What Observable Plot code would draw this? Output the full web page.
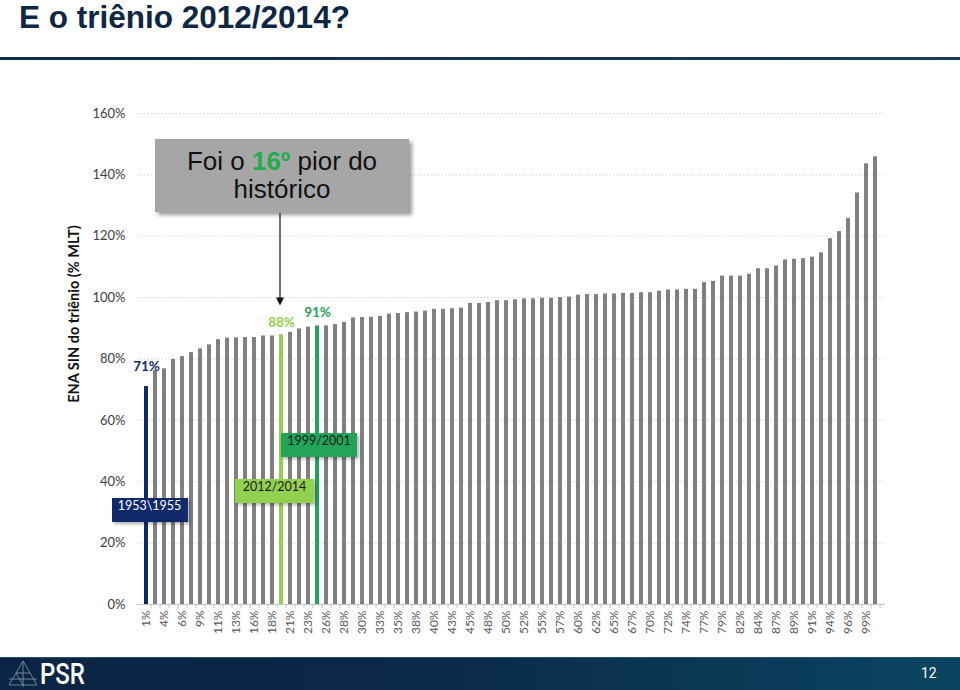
<!DOCTYPE html>
<html>
<head>
<meta charset="utf-8">
<script src="https://cdn.jsdelivr.net/npm/d3@7"></script>
<script src="https://cdn.jsdelivr.net/npm/@observablehq/plot@0.6"></script>
<style>
html, body { margin: 0; padding: 0; background: #fff; }
#page { position: relative; width: 960px; height: 690px; overflow: hidden; background: #fff; font-family: "Liberation Sans", Arial, sans-serif; }
#title { position: absolute; left: 19px; top: 0; font: bold 31.5px/34px "Liberation Sans", Arial, sans-serif; color: #0d2744; white-space: nowrap; }
#title-rule { position: absolute; left: 0; top: 57px; width: 960px; height: 3px; background: linear-gradient(90deg, #0f2a48, #1b3b5a); }
#chart { position: absolute; left: 0; top: 0; }
#chart svg g[aria-label^="x-axis"] text { font-size: 12px; fill: #595959; }
#chart svg g[aria-label^="y-axis"] text { font-size: 13px; fill: #404040; }
#ylabel { position: absolute; left: 73px; top: 314px; transform: translate(-50%, -50%) rotate(-90deg); font: bold 14.5px Lato, sans-serif; color: #111; white-space: nowrap; }
.tag { position: absolute; height: 24px; line-height: 24px; text-align: center; font: 12.5px Lato, sans-serif; box-shadow: 2px 2px 3px rgba(0,0,0,0.3); white-space: nowrap; }
#callout { position: absolute; left: 155px; top: 139px; width: 254px; height: 73px; background: #a6a6a6; box-shadow: 3px 3px 4px rgba(0,0,0,0.4); text-align: center; font: 26px/28px "Liberation Sans", Arial, sans-serif; color: #111; padding-top: 8px; box-sizing: border-box; white-space: nowrap; }
#callout b { color: #1fae4b; }
#footer { position: absolute; left: 0; top: 657px; width: 960px; height: 33px; background: linear-gradient(90deg, #0b2443 0%, #0b2949 45%, #0a4560 100%); border-top: 1px solid #2a5070; box-sizing: border-box; }
#psr { position: absolute; left: 40px; top: 658px; font: 500 30px/32px Roboto, sans-serif; color: #fff; transform: scaleX(0.8); transform-origin: left center; }
#pagenum { position: absolute; left: 921px; top: 664px; font: 14px/18px Roboto, sans-serif; color: #fff; }
</style>
</head>
<body>
<div id="page">
  <div id="title">E o triênio 2012/2014?</div>
  <div id="title-rule"></div>
  <div id="chart"></div>
  <div id="ylabel">ENA SIN do triênio (% MLT)</div>
  <div id="footer"></div>
  <svg id="logo" width="34" height="30" style="position:absolute;left:6px;top:659px" viewBox="0 0 34 30">
    <g fill="none" stroke="#9fb3c8" stroke-width="0.8" opacity="0.85">
      <polyline points="17,2 24,14 10,14 17,2"/>
      <polyline points="10,14 3,26 17,26 10,14"/>
      <polyline points="24,14 31,26 17,26"/>
      <line x1="17" y1="2" x2="17" y2="28"/>
      <line x1="3" y1="20" x2="31" y2="20"/>
    </g>
  </svg>
  <div id="psr">PSR</div>
  <div id="pagenum">12</div>
</div>
<script>
// ---- data ----
const enaValues = [
  71.0, 76.2, 76.8, 79.9, 80.8, 82.1, 83.3, 84.6, 86.3, 86.8,
  86.9, 87.0, 87.0, 87.5, 87.5, 87.8, 88.7, 89.8, 90.4, 90.7,
  90.8, 91.2, 91.9, 93.4, 93.5, 93.6, 93.9, 94.6, 94.8, 95.1,
  95.3, 95.6, 96.2, 96.2, 96.4, 96.6, 98.1, 98.1, 98.4, 99.0,
  99.0, 99.3, 99.6, 99.6, 99.8, 99.8, 100.0, 100.2, 100.8, 101.0,
  101.0, 101.2, 101.2, 101.4, 101.4, 101.6, 101.6, 102.1, 102.5, 102.5,
  102.7, 102.7, 104.9, 105.3, 107.0, 107.0, 107.0, 107.6, 109.4, 109.4,
  110.3, 112.3, 112.5, 112.7, 113.2, 114.6, 119.2, 121.5, 125.8, 134.1,
  143.6, 145.9
];
const xTickLabels = ["1%","4%","6%","9%","11%","13%","16%","18%","21%","23%",
  "26%","28%","30%","33%","35%","38%","40%","43%","45%","48%",
  "50%","52%","55%","57%","60%","62%","65%","67%","70%","72%",
  "74%","77%","79%","82%","84%","87%","89%","91%","94%","96%","99%"];
const yTicks = [0, 20, 40, 60, 80, 100, 120, 140, 160];
const highlightRanks = [1, 16, 20];
const highlightPeriods = ["1953\\1955", "2012/2014", "1999/2001"];

// ---- styles (not data) ----
const highlightFill = ["#10296b", "#92d050", "#22a55a"];
const highlightText = ["#10296b", "#92d050", "#22a55a"];
const valueLabelDy = [-16, -8, -9];
const tagTextColor = ["#ffffff", "#1a1a1a", "#1a1a1a"];
const tagBox = [ // pixel offsets of the period tags from their bar centre / y value
  {dx: 3.5, w: 76, yv: 30.6},
  {dx: -6.5, w: 79, yv: 36.8},
  {dx: 2, w: 76, yv: 51.8}
];

const ranks = enaValues.map((_, i) => i + 1);
const rows = ranks.map((r, i) => ({rank: r, value: enaValues[i]}));
const labelByRank = new Map(xTickLabels.map((t, i) => [2 * i + 1, t]));
const hlRows = highlightRanks.map((r, k) => ({rank: r, value: enaValues[r - 1], k}));

const W = 960, H = 657, mL = 137, mR = 75;
const step = (W - mL - mR) / ranks.length;

const marks = [
  Plot.ruleY(yTicks.filter(d => d > 0), {stroke: "#d4d4d4", strokeDasharray: "1.5,2"}),
  Plot.barY(rows, {x: "rank", y: "value", fill: "#808080"})
];
hlRows.forEach((d, k) => {
  marks.push(Plot.barY([d], {x: "rank", y: "value", fill: highlightFill[k]}));
});
marks.push(Plot.ruleY([0], {stroke: "#c4c4c4"}));
marks.push(Plot.ruleX(ranks, {x: d => d, y1: 0, y2: -1.4, dx: step / 2, stroke: "#c4c4c4"}));
hlRows.forEach((d, k) => {
  marks.push(Plot.text([d], {
    x: "rank", y: "value", text: v => Math.round(v.value) + "%",
    dy: valueLabelDy[k], lineAnchor: "bottom", fill: highlightText[k],
    fontWeight: "bold", fontSize: 13.5, fontFamily: "Lato, sans-serif"
  }));
});

const plot = Plot.plot({
  width: W, height: H,
  marginTop: 113, marginBottom: 53, marginLeft: mL, marginRight: mR,
  style: {fontFamily: "Lato, sans-serif", fontSize: "12px", color: "#404040", background: "transparent", overflow: "visible"},
  x: {type: "band", domain: ranks, paddingInner: 0.52, paddingOuter: 0.26,
      tickFormat: r => labelByRank.get(r) ?? "", tickRotate: -90, tickSize: 0, tickPadding: 6, label: null},
  y: {domain: [0, 160], ticks: yTicks, tickFormat: d => d + "%", tickSize: 0, tickPadding: 12, label: null},
  marks
});
document.getElementById("chart").appendChild(plot);

// ---- annotations placed through the plot's scales ----
const xs = plot.scale("x"), ys = plot.scale("y");
const bw = xs.bandwidth ?? step * 0.48;
const cx = r => xs.apply(r) + bw / 2;
const page = document.getElementById("page");

hlRows.forEach((d, k) => {
  const t = document.createElement("div");
  t.className = "tag";
  const b = tagBox[k];
  t.style.width = b.w + "px";
  t.style.left = (cx(d.rank) + b.dx - b.w / 2) + "px";
  t.style.top = (ys.apply(b.yv) - 12) + "px";
  t.style.background = highlightFill[k];
  t.style.color = tagTextColor[k];
  t.textContent = highlightPeriods[k];
  page.appendChild(t);
});

// callout box
const callout = document.createElement("div");
callout.id = "callout";
callout.innerHTML = "Foi o <b>" + highlightRanks[1] + "º</b> pior do<br>histórico";
page.appendChild(callout);

// arrow from callout to the 2012/2014 bar
const ax = cx(highlightRanks[1]) - 1;
const yTop = 213, yTip = ys.apply(enaValues[highlightRanks[1] - 1]) - 29;
const svgNS = "http://www.w3.org/2000/svg";
const arrow = document.createElementNS(svgNS, "svg");
arrow.setAttribute("width", 960); arrow.setAttribute("height", 690);
arrow.style.position = "absolute"; arrow.style.left = "0"; arrow.style.top = "0";
arrow.style.pointerEvents = "none";
arrow.innerHTML = `<line x1="${ax}" y1="${yTop}" x2="${ax}" y2="${yTip - 6}" stroke="#111" stroke-width="1.2"/>
  <polygon points="${ax - 4},${yTip - 8} ${ax + 4},${yTip - 8} ${ax},${yTip}" fill="#111"/>`;
page.appendChild(arrow);
</script>
</body>
</html>
